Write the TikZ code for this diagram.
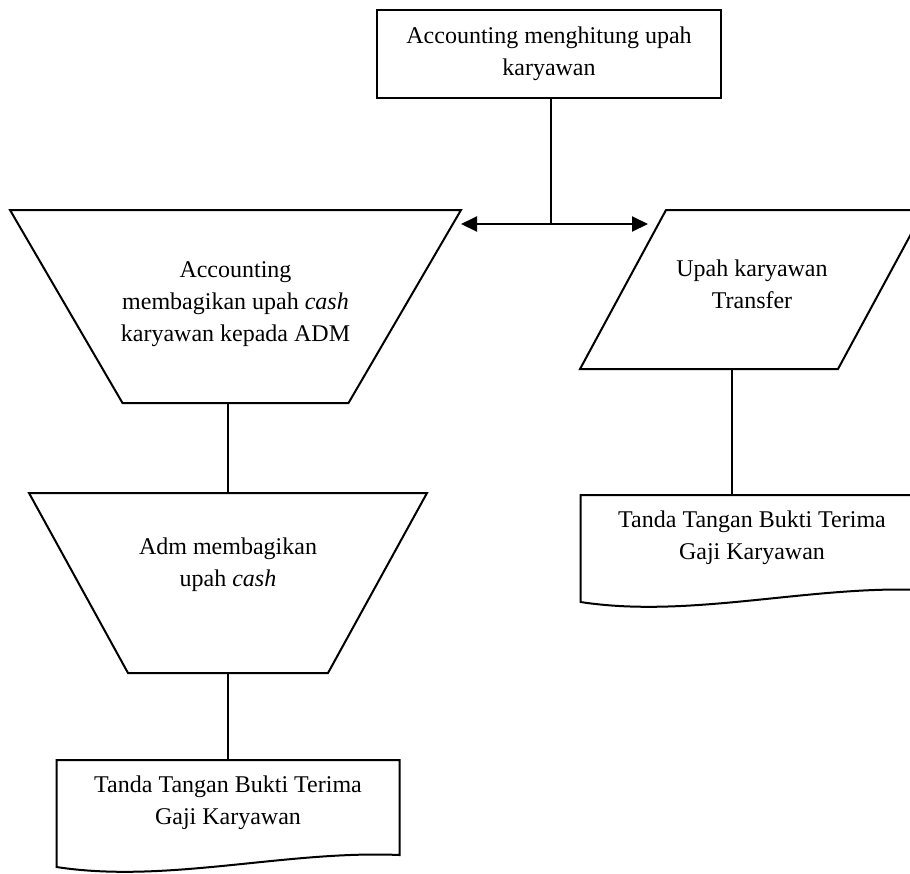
\documentclass[tikz,border=0pt]{standalone}
\usepackage{fontspec}
\setmainfont{Liberation Serif}
\usepackage{tikz}
\usetikzlibrary{shapes.geometric,arrows.meta}
\tikzset{flowline/.style={line width=1pt}}
\tikzset{procbox/.style={rectangle, draw, line width=1pt, minimum width=172pt, minimum height=44pt, align=center, inner sep=1pt}}
\tikzset{manual/.style={trapezium, shape border rotate=180, draw, line width=1pt}}
\tikzset{datain/.style={trapezium, trapezium left angle=61.6, trapezium right angle=118.4, draw, line width=1pt}}
\tikzset{doc/.style={rectangle, minimum width=171.5pt, minimum height=42.5pt, align=center, inner sep=1pt, outer sep=0pt}}
\newcommand{\docwave}[1]{%
  \draw[flowline] (#1.north west) -- (#1.north east) -- ([yshift=-5pt]#1.south east)
    .. controls ([xshift=-56.5pt,yshift=-2.5pt]#1.south east) and ([xshift=55pt,yshift=-19.5pt]#1.south west) .. ([yshift=-11pt]#1.south west) -- cycle;}

\begin{document}
\begin{tikzpicture}[x=0.5pt, y=-0.5pt, node distance=120pt, font=\fontsize{12}{16}\selectfont, >={Triangle[length=8pt,width=7.5pt]}]
\useasboundingbox (0,0) rectangle (910,873);
%--------------------
% cash: accounting to adm
%--------------------
\node[manual, trapezium left angle=59.76, trapezium right angle=59.76, inner xsep=56.5pt, inner ysep=48.25pt,
  label={[name=acctext, align=center, yshift=1pt]center:Accounting\\membagikan upah \emph{cash}\\karyawan kepada ADM}](accshare) at (235.5,306.5) {};
\node[manual, trapezium left angle=61.19, trapezium right angle=61.19, inner xsep=50pt, inner ysep=45pt,
  label={[name=admtext, align=center, yshift=9pt]center:Adm membagikan\\upah \emph{cash}}](admshare)[below of=accshare, xshift=-3.75pt, yshift=-18.25pt]{};
\node[doc](docleft)[below of=admshare, yshift=10.25pt]{Tanda Tangan Bukti Terima\\Gaji Karyawan};
\docwave{docleft}

%--------------------
% transfer
%--------------------
\node[datain, inner xsep=43pt, inner ysep=39.75pt,
  label={[name=trftext, align=center, yshift=2.75pt]center:Upah karyawan\\Transfer}](trf)[right of=accshare, xshift=138.25pt, yshift=8.5pt]{};
\node[doc](docright)[below of=trf, yshift=-4pt]{Tanda Tangan Bukti Terima\\Gaji Karyawan};
\docwave{docright}

%--------------------
% accounting counts the wages
%--------------------
\node[procbox](topbox)[above of=accshare, xshift=156.75pt, yshift=6.25pt]{Accounting menghitung upah\\karyawan};
\coordinate (split) at (551,224);
\coordinate (toacc) at (461,224);
\coordinate (totrf) at (648,224);

\draw[flowline] (topbox.south -| split) -- (split);
\draw[flowline, <->] (toacc) -- (totrf);
\draw[flowline] (accshare.south -| admshare.north) -- (admshare.north);
\draw[flowline] (admshare.south) -- (docleft.north);
\draw[flowline] ([xshift=-10pt]docright.north) -- ([xshift=-10pt]docright.north |- trf.south);
\end{tikzpicture}
\end{document}
